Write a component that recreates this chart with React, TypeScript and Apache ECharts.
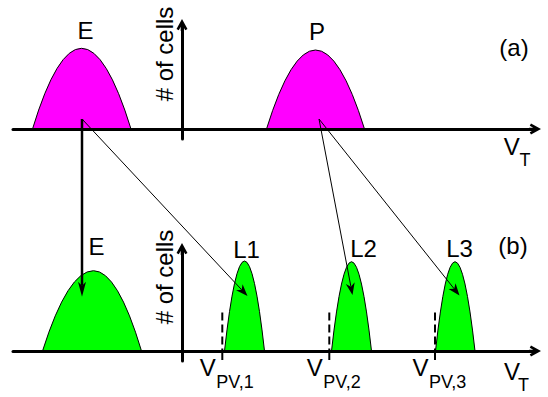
import React, { useEffect, useRef } from 'react';
import * as echarts from 'echarts';

// Threshold-voltage axis (arbitrary units, 0 at the "# of cells" axis)
const X_MIN = -3.38;
const X_MAX = 7.06;

// (a) distributions before programming: erased and programmed
const topNames = ['E', 'P'];
const topLeft = [-2.99, 1.69];
const topPeak = [-2.01, 2.67];
const topRight = [-1.02, 3.65];
const topHeight = [8.07, 7.9];

// (b) distributions after multi-level programming
const bottomNames = ['E', 'L1', 'L2', 'L3'];
const bottomLeft = [-2.79, 0.85, 2.99, 5.07];
const bottomPeak = [-1.77, 1.25, 3.39, 5.46];
const bottomRight = [-0.81, 1.65, 3.79, 5.86];
const bottomHeight = [8.03, 9.0, 8.93, 8.93];

// program-verify levels and the height of their dashed markers
const pvNames = ['PV,1', 'PV,2', 'PV,3'];
const pvLevels = [0.806, 2.946, 5.06];
const pvMarkerHeight = [3.85, 3.85, 3.85];

// transitions: start in panel (a), end in panel (b)
const arrowStart = [[-2.0, 1.0], [-2.0, 1.0], [2.74, 1.0], [2.74, 1.0]];
const arrowEnd = [[-2.0, 5.43], [1.31, 5.5], [3.41, 5.6], [5.55, 5.55]];

// ---- styling / layout ----
const FONT = '"Liberation Sans", Arial, Helvetica, sans-serif';
const MAGENTA = '#ff00ff';
const GREEN = '#00ff00';
const topLabelOffset: [number, number][] = [[4, -18], [1.5, -19]];
const bottomLabelOffset: [number, number][] = [[3, -24], [2, -12], [12, -13.5], [4.5, -13.5]];
const arrowWidth = [2.5, 1, 1, 1];
const arrowHead = [
  { len: 15, half: 4, notch: 4 },
  { len: 12, half: 4.5, notch: 3.5 },
  { len: 12, half: 4.5, notch: 3.5 },
  { len: 12, half: 4.5, notch: 3.5 },
];

// open chevron arrowhead with a short stem, pointing up in its own frame
const CHEVRON =
  'path://M5.5,0 L11,10 L8.72,11.25 L6.8,7.76 L6.8,12 L4.2,12 L4.2,7.76 L2.28,11.25 L0,10 Z';

const textStyle = (text: string, size: number, align = 'center') => ({
  text,
  font: `${size}px ${FONT}`,
  fill: '#000',
  textFill: '#000',
  align,
  textAlign: align,
  verticalAlign: 'middle',
  textVerticalAlign: 'middle',
});

const axisPair = (gridIndex: number, yMax: number) => ({
  x: {
    type: 'value',
    gridIndex,
    min: X_MIN,
    max: X_MAX,
    z: 10,
    axisLine: {
      show: true,
      onZero: true,
      symbol: ['none', CHEVRON],
      symbolSize: [11, 12],
      lineStyle: { color: '#000', width: 3 },
    },
    axisTick: { show: false },
    axisLabel: { show: false },
    splitLine: { show: false },
  },
  y: {
    type: 'value',
    gridIndex,
    min: -1,
    max: yMax,
    z: 10,
    axisLine: {
      show: true,
      onZero: true,
      symbol: ['none', CHEVRON],
      symbolSize: [11, 12],
      lineStyle: { color: '#000', width: 3 },
    },
    axisTick: { show: false },
    axisLabel: { show: false },
    splitLine: { show: false },
  },
});

const humpRenderer =
  (names: string[], fill: string, offsets: [number, number][]) => (params: any, api: any) => {
    const i = params.dataIndex;
    const a = api.coord([api.value(0), 0]);
    const p = api.coord([api.value(1), api.value(3)]);
    const b = api.coord([api.value(2), 0]);
    const d =
      `M${a[0]} ${a[1]} Q${(a[0] + p[0]) / 2} ${p[1]} ${p[0]} ${p[1]} ` +
      `Q${(p[0] + b[0]) / 2} ${p[1]} ${b[0]} ${b[1]} Z`;
    const [dx, dy] = offsets[i];
    return {
      type: 'group',
      children: [
        { type: 'path', shape: { pathData: d }, style: { fill, stroke: '#000', lineWidth: 1 } },
        { type: 'text', x: p[0] + dx, y: p[1] + dy, style: textStyle(names[i], 24) },
      ],
    };
  };

const pvRenderer = (params: any, api: any) => {
  const i = params.dataIndex;
  const base = api.coord([api.value(0), 0]);
  const top = api.coord([api.value(0), api.value(1)]);
  const x = base[0];
  return {
    type: 'group',
    children: [
      {
        type: 'line',
        shape: { x1: x, y1: top[1], x2: x, y2: base[1] },
        style: { stroke: '#000', lineWidth: 2, lineDash: [8, 4] },
      },
      {
        type: 'line',
        shape: { x1: x, y1: base[1], x2: x, y2: base[1] + 9 },
        style: { stroke: '#000', lineWidth: 2 },
      },
      { type: 'text', x: x - 14.5, y: base[1] + 16, style: textStyle('V', 24) },
      { type: 'text', x: x - 6, y: base[1] + 30.5, style: textStyle(pvNames[i], 18, 'left') },
    ],
  };
};

export default function App() {
  const ref = useRef<HTMLDivElement>(null);

  useEffect(() => {
    if (!ref.current) return;
    const chart = echarts.init(ref.current, null, { renderer: 'svg' });
    const top = axisPair(0, 10.4);
    const bottom = axisPair(1, 10.2);

    chart.setOption({
      animation: false,
      backgroundColor: '#fff',
      grid: [
        { left: 13, top: 25, width: 522, height: 114 },
        { left: 13, top: 249, width: 522, height: 112 },
      ],
      xAxis: [top.x, bottom.x],
      yAxis: [top.y, bottom.y],
      series: [
        {
          type: 'custom',
          xAxisIndex: 0,
          yAxisIndex: 0,
          z: 2,
          renderItem: humpRenderer(topNames, MAGENTA, topLabelOffset),
          data: topNames.map((_, i) => [topLeft[i], topPeak[i], topRight[i], topHeight[i]]),
        },
        {
          type: 'custom',
          xAxisIndex: 1,
          yAxisIndex: 1,
          z: 2,
          renderItem: humpRenderer(bottomNames, GREEN, bottomLabelOffset),
          data: bottomNames.map((_, i) => [bottomLeft[i], bottomPeak[i], bottomRight[i], bottomHeight[i]]),
        },
        {
          type: 'custom',
          xAxisIndex: 1,
          yAxisIndex: 1,
          z: 3,
          renderItem: pvRenderer,
          data: pvLevels.map((v, i) => [v, pvMarkerHeight[i]]),
        },
      ],
    });

    // transition arrows, placed through each panel's own scales
    const arrows: any[] = [];
    arrowStart.forEach((s, i) => {
      const p0 = chart.convertToPixel({ gridIndex: 0 }, s) as number[];
      const p1 = chart.convertToPixel({ gridIndex: 1 }, arrowEnd[i]) as number[];
      const dx = p1[0] - p0[0];
      const dy = p1[1] - p0[1];
      const len = Math.hypot(dx, dy);
      const ux = dx / len;
      const uy = dy / len;
      const nx = -uy;
      const ny = ux;
      const h = arrowHead[i];
      const backX = p1[0] - ux * h.len;
      const backY = p1[1] - uy * h.len;
      const notchX = p1[0] - ux * (h.len - h.notch);
      const notchY = p1[1] - uy * (h.len - h.notch);
      arrows.push({
        type: 'line',
        z: 100,
        shape: { x1: p0[0], y1: p0[1], x2: notchX, y2: notchY },
        style: { stroke: '#000', lineWidth: arrowWidth[i] },
      });
      arrows.push({
        type: 'polygon',
        z: 101,
        shape: {
          points: [
            [p1[0], p1[1]],
            [backX + nx * h.half, backY + ny * h.half],
            [notchX, notchY],
            [backX - nx * h.half, backY - ny * h.half],
          ],
        },
        style: { fill: '#000' },
      });
    });

    chart.setOption({
      graphic: [
        { type: 'text', x: 164, y: 54, rotation: Math.PI / 2, z: 50, style: textStyle('# of cells', 24) },
        { type: 'text', x: 164, y: 277, rotation: Math.PI / 2, z: 50, style: textStyle('# of cells', 24) },
        { type: 'text', x: 514, y: 47, z: 50, style: textStyle('(a)', 24) },
        { type: 'text', x: 513, y: 245, z: 50, style: textStyle('(b)', 24) },
        { type: 'text', x: 511.7, y: 146.5, z: 50, style: textStyle('V', 24) },
        { type: 'text', x: 525, y: 160, z: 50, style: textStyle('T', 18) },
        { type: 'text', x: 512, y: 371.5, z: 50, style: textStyle('V', 24) },
        { type: 'text', x: 523.5, y: 385, z: 50, style: textStyle('T', 18) },
        ...arrows,
      ],
    });

    return () => chart.dispose();
  }, []);

  return (
    <div
      ref={ref}
      style={{ position: 'fixed', left: 0, top: 0, width: 548, height: 397 }}
    />
  );
}
